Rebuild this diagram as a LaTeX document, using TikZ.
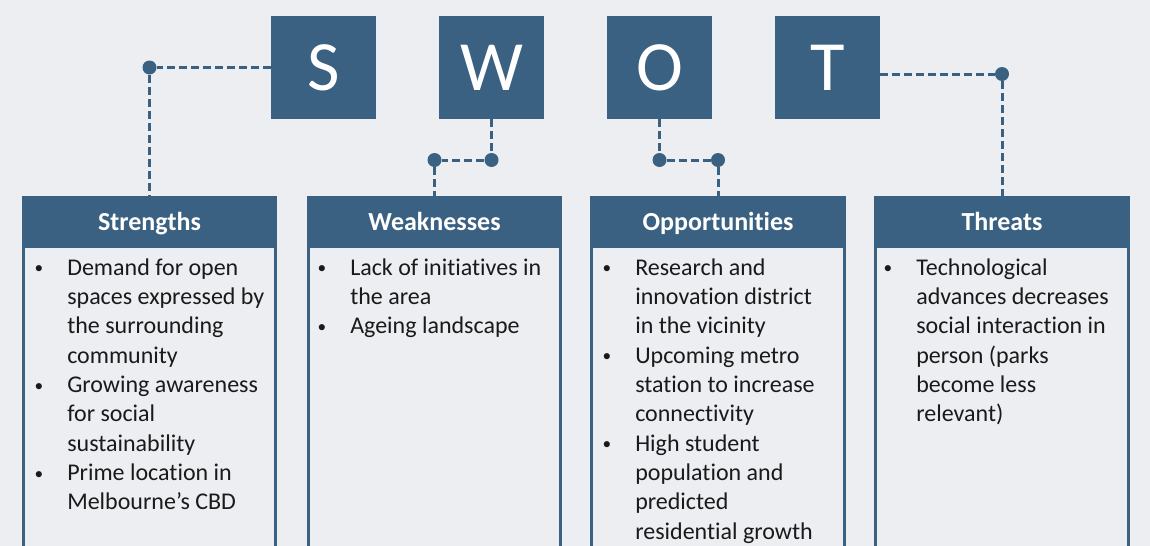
\documentclass[tikz,border=0pt]{standalone}
\usepackage{fontspec}
\setmainfont{Carlito}[Ligatures=NoCommon]
\usetikzlibrary{positioning}

\definecolor{swotblue}{HTML}{3A6182}
\definecolor{paper}{HTML}{EDEEF2}
\definecolor{ink}{HTML}{1A1A1A}

\tikzset{
  letterbox/.style={fill=swotblue, text=white, minimum width=78.75pt, minimum height=77.25pt,
    inner sep=0pt, font=\fontsize{53}{53}\selectfont},
  headbox/.style={fill=swotblue, text=white, minimum width=191.25pt, minimum height=37.5pt,
    inner sep=0pt, text height=16pt, text depth=2.5pt, font=\fontsize{19.5}{22}\selectfont\bfseries},
  panel/.style={draw=swotblue, line width=2.25pt, fill=paper},
  bodytext/.style={anchor=north west, align=left, inner sep=0pt, text=ink,
    font=\fontsize{18}{22}\selectfont},
  link/.style={swotblue, line width=2.25pt, dash pattern=on 6pt off 3pt},
  dot/.style={circle, fill=swotblue, minimum size=10.5pt, inner sep=0pt},
}
\newcommand{\bul}{\rule{0pt}{14pt}\llap{\raisebox{1pt}{\fontsize{13}{13}\selectfont\textbullet}\hspace{18pt}}}

\begin{document}
\begin{tikzpicture}[x=0.75pt, y=-0.75pt]
    \useasboundingbox (0,0) rectangle (1150,546);
    \fill[paper] (0,0) rectangle (1150,546);
    \clip (0,0) rectangle (1150,546);

    % letter tiles
    \node[letterbox] (S) at (323.5,67.5) {S};
    \node[letterbox] (W) at (491.5,67.5) {W};
    \node[letterbox] (O) at (659.5,67.5) {O};
    \node[letterbox] (T) at (827.5,67.5) {T};

    % panels
    \begin{scope}[shift={(22,196)}]
        \draw[panel] (1.5,50) rectangle (253.5,380);
        \node[headbox] (str) at (127.5,25) {Strengths};
        \node[bodytext] (strtext) at (45,60.3) {\bul Demand for open\\ spaces expressed by\\ the surrounding\\ community\\
            \bul Growing awareness\\ for social\\ sustainability\\
            \bul Prime location in\\ Melbourne’s CBD};
    \end{scope}

    \begin{scope}[shift={(307,196)}]
        \draw[panel] (1.5,50) rectangle (253.5,380);
        \node[headbox] (weak) at (127.5,25) {Weaknesses};
        \node[bodytext] (weaktext) at (43,60.3) {\bul Lack of initiatives in\\ the area\\
            \bul Ageing landscape};
    \end{scope}

    \begin{scope}[shift={(590,196)}]
        \draw[panel] (1.5,50) rectangle (254.5,380);
        \node[headbox, minimum width=192pt] (opp) at (128,25) {Opportunities};
        \node[bodytext] (opptext) at (45,60.3) {\bul Research and\\ innovation district\\ in the vicinity\\
            \bul Upcoming metro\\ station to increase\\ connectivity\\
            \bul High student\\ population and\\ predicted\\ residential growth};
    \end{scope}

    \begin{scope}[shift={(874,196)}]
        \draw[panel] (1.5,50) rectangle (254.5,380);
        \node[headbox, minimum width=192pt] (thr) at (128,25) {Threats};
        \node[bodytext] (thrtext) at (42,60.3) {\bul Technological\\ advances decreases\\ social interaction in\\
            person (parks\\ become less\\ relevant)};
    \end{scope}

    % dotted leaders from the tiles down to the panels
    \node[dot] (sdot) at (149.5,67.5) {};
    \draw[link] (S.west) -- (sdot) -- (str.north);

    \node[dot] (wdot1) at (491.5,160) {};
    \node[dot] (wdot2) at (434.5,160) {};
    \draw[link] (W.south) -- (wdot1) -- (wdot2) -- (weak.north);

    \node[dot] (odot1) at (659.5,160) {};
    \node[dot] (odot2) at (718,160) {};
    \draw[link] (O.south) -- (odot1) -- (odot2) -- (opp.north);

    \node[dot] (tdot) at (1002,74) {};
    \draw[link] (T.east |- tdot) -- (tdot) -- (thr.north);
\end{tikzpicture}
\end{document}
